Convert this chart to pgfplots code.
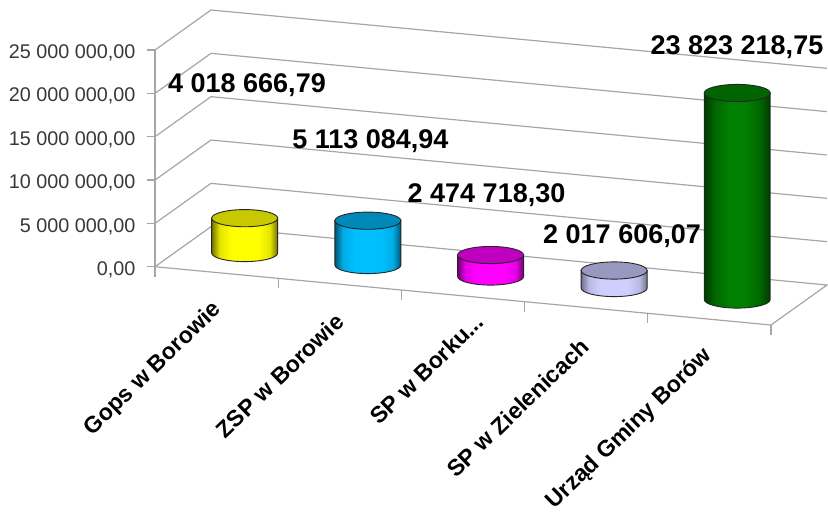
\documentclass[border=0pt]{standalone}
\usepackage{fontspec}
\setmainfont{Liberation Sans}
\usepackage{pgfplots}
\usepackage{pgfplotstable}
\pgfplotsset{compat=1.18}

\definecolor{gridc}{HTML}{A6A6A6}
\definecolor{ticktext}{HTML}{383838}

% cylinder side shadings (bbox maps onto 25bp..75bp)
\pgfdeclarehorizontalshading{cylY}{100bp}{color(0bp)=(yellow!45!black);color(25bp)=(yellow!45!black);color(31bp)=(yellow!90!black);color(40bp)=(yellow);color(60bp)=(yellow);color(69bp)=(yellow!90!black);color(75bp)=(yellow!45!black);color(100bp)=(yellow!45!black)}
\definecolor{bl}{HTML}{00BFFF}
\pgfdeclarehorizontalshading{cylB}{100bp}{color(0bp)=(bl!45!black);color(25bp)=(bl!45!black);color(31bp)=(bl!90!black);color(40bp)=(bl);color(60bp)=(bl);color(69bp)=(bl!90!black);color(75bp)=(bl!45!black);color(100bp)=(bl!45!black)}
\definecolor{mg}{HTML}{FF00FF}
\pgfdeclarehorizontalshading{cylM}{100bp}{color(0bp)=(mg!45!black);color(25bp)=(mg!45!black);color(31bp)=(mg!90!black);color(40bp)=(mg);color(60bp)=(mg);color(69bp)=(mg!90!black);color(75bp)=(mg!45!black);color(100bp)=(mg!45!black)}
\definecolor{lv}{HTML}{CFCFFF}
\pgfdeclarehorizontalshading{cylL}{100bp}{color(0bp)=(lv!55!black);color(25bp)=(lv!55!black);color(31bp)=(lv!90!black);color(40bp)=(lv);color(60bp)=(lv);color(69bp)=(lv!90!black);color(75bp)=(lv!55!black);color(100bp)=(lv!55!black)}
\definecolor{gr}{HTML}{008000}
\pgfdeclarehorizontalshading{cylG}{100bp}{color(0bp)=(gr!45!black);color(25bp)=(gr!45!black);color(33bp)=(gr!80!black);color(44bp)=(gr);color(56bp)=(gr);color(67bp)=(gr!80!black);color(75bp)=(gr!45!black);color(100bp)=(gr!45!black)}
\definecolor{topY}{HTML}{C8C800}
\definecolor{topB}{HTML}{0088B8}
\definecolor{topM}{HTML}{C000C0}
\definecolor{topL}{HTML}{9999C0}
\definecolor{topG}{HTML}{006400}

\pgfdeclareplotmark{blank}{}

% values in millions; b = where the bar stands on the sloped floor
\pgfplotstableread{
x b v
0.728 1.58 4.01866679
}\tGops
\pgfplotstableread{
x b v
1.728 0.196 5.11308494
}\tZSP
\pgfplotstableread{
x b v
2.724 -1.13 2.47471830
}\tBorku
\pgfplotstableread{
x b v
3.727 -2.457 2.01760607
}\tZiel
\pgfplotstableread{
x b v
4.726 -3.784 23.82321875
}\tUrzad

\newcommand{\cylplot}[3]{%
  \addplot[scatter, only marks, mark=blank,
    point meta=explicit symbolic,
    scatter/@pre marker code/.code={%
      \pgfmathsetmacro\cylH{8.668*\pgfplotspointmeta}%
      \path[draw=black!85, line width=0.9pt, shade, shading=#1]
        (-33pt,0pt) -- (-33pt,\cylH pt) -- (33pt,\cylH pt) -- (33pt,0pt)
        arc[start angle=0, end angle=-180, x radius=33pt, y radius=8.6pt] -- cycle;
      \path[draw=black!85, line width=0.9pt, fill=#2]
        (0pt,\cylH pt) ellipse[x radius=33pt, y radius=8.6pt];
    },
    scatter/@post marker code/.code={},
  ] table[x=x, y=b, meta=v] {#3};
}

\begin{document}
\begin{tikzpicture}[x=1pt, y=1pt]
\useasboundingbox (0,0) rectangle (828,512);
\begin{axis}[
    at={(155pt,245.3pt)}, anchor=south west,
    scale only axis, width=616pt, height=216.7pt,
    xmin=0, xmax=5, ymin=0, ymax=25,
    clip=false,
    axis y line=left, axis x line=none,
    axis line style={gridc, line width=1.2pt, -},
    xtick=\empty,
    ytick={0,5,10,15,20,25},
    yticklabels={{0,00},{5 000 000,00},{10 000 000,00},{15 000 000,00},{20 000 000,00},{25 000 000,00}},
    tick style={gridc, line width=1.2pt},
    tick align=outside, major tick length=8pt,
    yticklabel style={font=\fontsize{19.8}{20}\selectfont, text=ticktext, xshift=-8pt, yshift=-3pt},
    every axis plot/.append style={gridc, line width=1.2pt},
]
% walls
\addplot[gridc] coordinates {(0,5) (0.4545,9.615) (5.4545,2.889)};
\addplot[gridc] coordinates {(0,10) (0.4545,14.615) (5.4545,7.889)};
\addplot[gridc] coordinates {(0,15) (0.4545,19.615) (5.4545,12.889)};
\addplot[gridc] coordinates {(0,20) (0.4545,24.615) (5.4545,17.889)};
\addplot[gridc] coordinates {(0,25) (0.4545,29.615) (5.4545,22.889)};
% floor
\addplot[gridc] coordinates {(0,0) (0.4545,4.615) (5.4545,-2.111) (5,-6.726) (0,0)};
% category ticks on the front edge
\addplot[gridc] coordinates {(0,0) (0,-1.15)};
\addplot[gridc] coordinates {(1,-1.345) (1,-2.495)};
\addplot[gridc] coordinates {(2,-2.69) (2,-3.84)};
\addplot[gridc] coordinates {(3,-4.035) (3,-5.185)};
\addplot[gridc] coordinates {(4,-5.38) (4,-6.53)};
\addplot[gridc] coordinates {(5,-6.726) (5,-7.876)};

\cylplot{cylY}{topY}{\tGops}
\cylplot{cylB}{topB}{\tZSP}
\cylplot{cylM}{topM}{\tBorku}
\cylplot{cylL}{topL}{\tZiel}
\cylplot{cylG}{topG}{\tUrzad}

% data labels
\begin{scope}[every node/.style={font=\bfseries\fontsize{27}{28}\selectfont, text=black, inner sep=0pt, yshift=-2pt}]
\node at (axis cs:0.7468,21.19) {4 018 666,79};
\node at (axis cs:1.749,14.73) {5 113 084,94};
\node at (axis cs:2.691,8.50) {2 474 718,30};
\node at (axis cs:3.791,3.77) {2 017 606,07};
\node at (axis cs:4.724,25.58) {23 823 218,75};
\end{scope}

% category labels
\begin{scope}[every node/.style={font=\bfseries\fontsize{23}{24}\selectfont, text=black, rotate=44, anchor=east, inner sep=0pt}]
\node at (axis cs:0.51,-4.6) {Gops w Borowie};
\node at (axis cs:1.50,-5.9) {ZSP w Borowie};
\node at (axis cs:2.635,-5.9) {SP w Borku...};
\node at (axis cs:3.49,-8.8) {SP w Zielenicach};
\node at (axis cs:4.495,-9.9) {Urząd Gminy Borów};
\end{scope}
\end{axis}
\end{tikzpicture}
\end{document}
